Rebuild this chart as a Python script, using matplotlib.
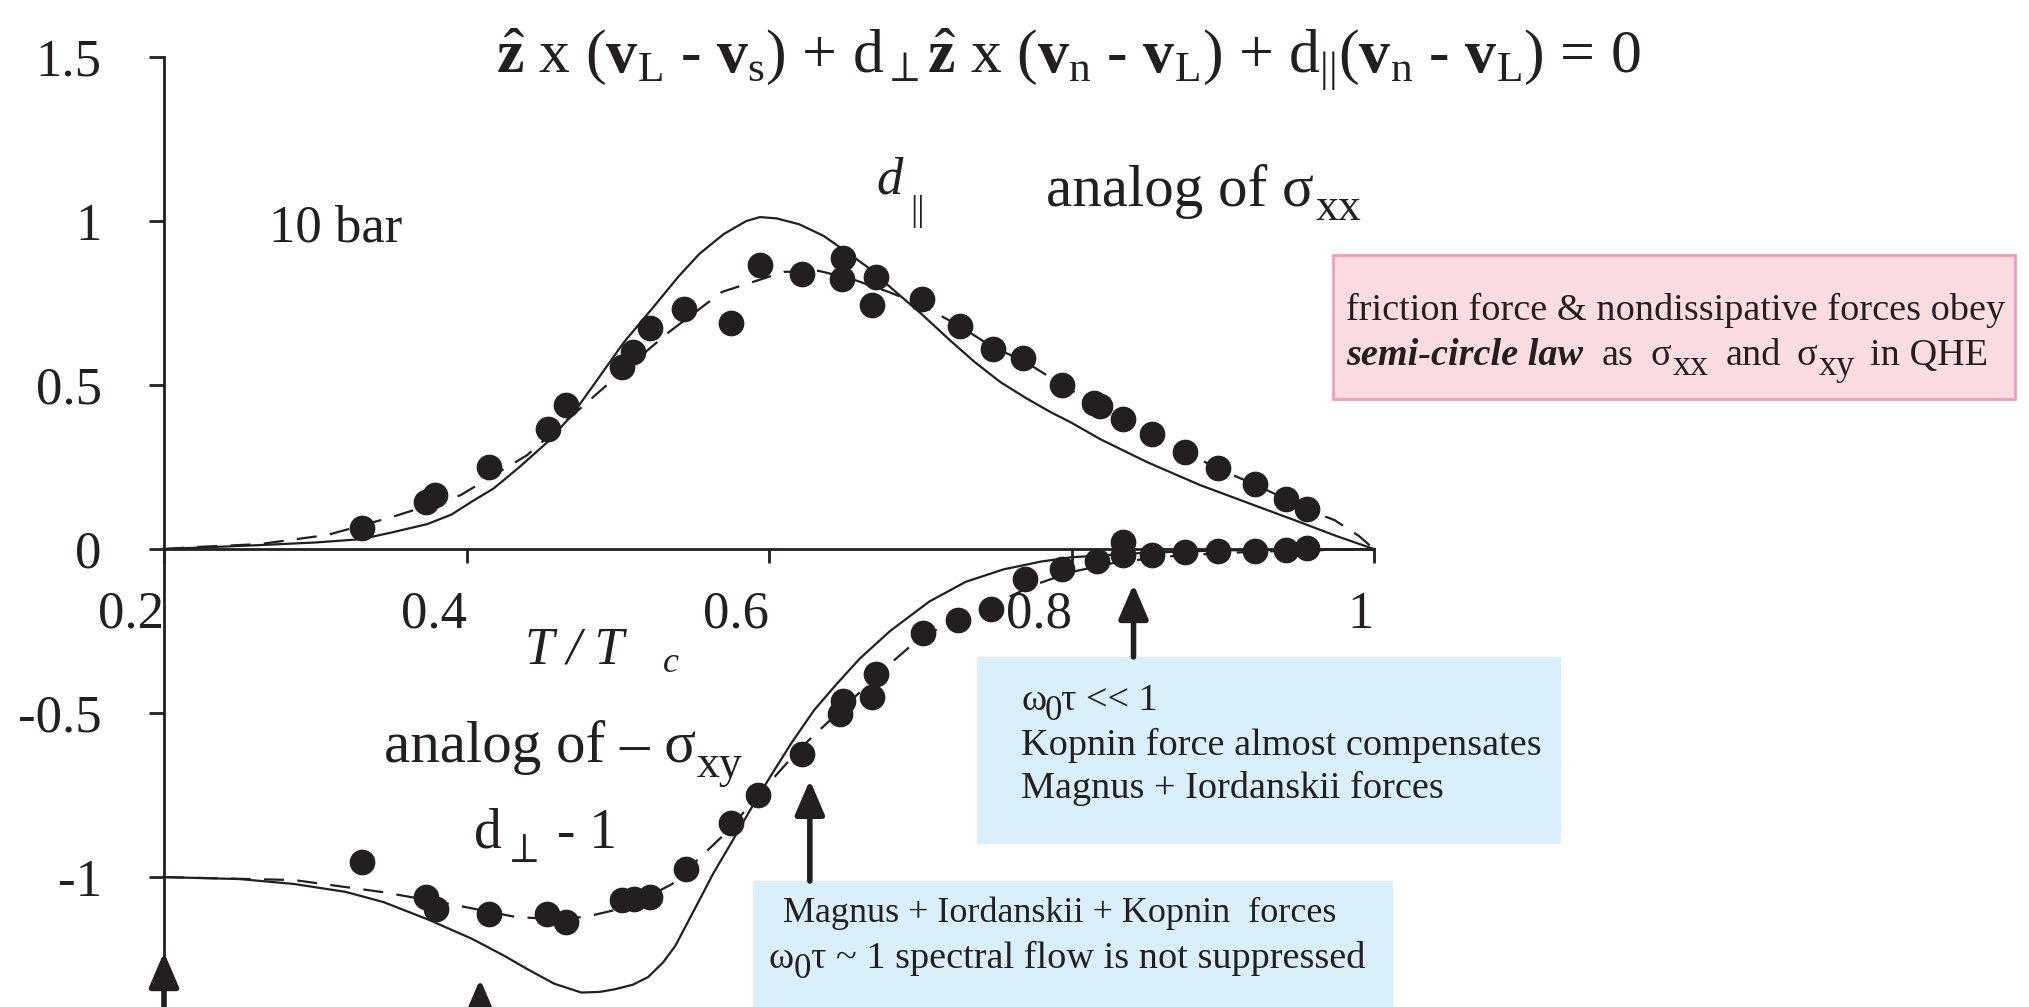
import matplotlib
matplotlib.use("Agg")
import matplotlib.pyplot as plt
from matplotlib.patches import Rectangle

plt.rcParams["font.family"] = ["Liberation Serif", "DejaVu Serif"]
plt.rcParams["mathtext.fontset"] = "custom"
plt.rcParams["mathtext.rm"] = "Liberation Serif"
plt.rcParams["mathtext.it"] = "Liberation Serif:italic"
plt.rcParams["mathtext.bf"] = "Liberation Serif:bold"

INK = "#231f20"
W, H = 2029, 1007

# measured mutual-friction coefficients, 10 bar
d_par_T = [0.331, 0.373, 0.379, 0.415, 0.454, 0.466, 0.503, 0.510, 0.521, 0.544,
           0.575, 0.594, 0.622, 0.649, 0.648, 0.668, 0.671, 0.701, 0.726, 0.748,
           0.768, 0.794, 0.815, 0.819, 0.834, 0.853, 0.875, 0.897, 0.921, 0.942, 0.956]
d_par = [0.064, 0.143, 0.165, 0.250, 0.366, 0.439, 0.555, 0.600, 0.674, 0.732,
         0.689, 0.866, 0.838, 0.887, 0.823, 0.744, 0.829, 0.762, 0.680, 0.610,
         0.582, 0.500, 0.445, 0.435, 0.397, 0.351, 0.296, 0.247, 0.198, 0.152, 0.122]

d_perp_T = [0.331, 0.373, 0.380, 0.415, 0.453, 0.466, 0.503, 0.511, 0.521, 0.545,
            0.575, 0.593, 0.622, 0.647, 0.649, 0.668, 0.671, 0.702, 0.725, 0.747,
            0.769, 0.794, 0.817, 0.834, 0.834, 0.853, 0.875, 0.897, 0.921, 0.942, 0.956]
d_perp_m1 = [-0.954, -1.061, -1.098, -1.113, -1.113, -1.137, -1.070, -1.067, -1.061, -0.976,
             -0.834, -0.751, -0.625, -0.502, -0.462, -0.451, -0.380, -0.257, -0.217, -0.182,
             -0.091, -0.060, -0.035, 0.021, -0.018, -0.017, -0.010, -0.005, -0.006, -0.002, 0.004]

# theory curves (solid)
theory_par_T = [0.20, 0.263, 0.30, 0.33, 0.35, 0.374, 0.39, 0.404, 0.418, 0.435, 0.454,
                0.47, 0.484, 0.504, 0.524, 0.54, 0.554, 0.57, 0.585, 0.594, 0.605, 0.62,
                0.636, 0.65, 0.665, 0.681, 0.70, 0.72, 0.736, 0.753, 0.77, 0.786, 0.80,
                0.819, 0.85, 0.885, 0.92, 0.951, 0.975, 1.0]
theory_par = [0.0, 0.012, 0.020, 0.030, 0.050, 0.076, 0.105, 0.146, 0.185, 0.250, 0.328,
              0.410, 0.500, 0.630, 0.740, 0.830, 0.900, 0.960, 1.000, 1.012, 1.008, 0.990,
              0.955, 0.910, 0.860, 0.795, 0.720, 0.635, 0.570, 0.509, 0.460, 0.418, 0.385,
              0.335, 0.265, 0.195, 0.135, 0.082, 0.040, 0.0]

theory_perp_T = [0.20, 0.25, 0.286, 0.32, 0.345, 0.375, 0.404, 0.425, 0.44, 0.458, 0.476,
                 0.488, 0.498, 0.51, 0.52, 0.53, 0.538, 0.546, 0.554, 0.563, 0.574, 0.587,
                 0.60, 0.615, 0.63, 0.645, 0.66, 0.68, 0.706, 0.73, 0.755, 0.78, 0.80,
                 0.85, 0.90, 1.0]
theory_perp = [-1.0, -1.006, -1.021, -1.045, -1.076, -1.13, -1.189, -1.24, -1.28, -1.325,
               -1.352, -1.350, -1.342, -1.328, -1.305, -1.26, -1.21, -1.14, -1.07, -0.99,
               -0.904, -0.80, -0.70, -0.59, -0.49, -0.41, -0.334, -0.25, -0.16, -0.10,
               -0.062, -0.038, -0.025, -0.011, -0.004, 0.0]

# fitted curves (dashed)
fit_par_T = [0.20, 0.22, 0.263, 0.308, 0.351, 0.396, 0.44, 0.495, 0.534, 0.569, 0.61,
             0.633, 0.655, 0.679, 0.70, 0.726, 0.748, 0.768, 0.794, 0.817, 0.834, 0.853,
             0.875, 0.897, 0.921, 0.942, 0.956, 0.974, 0.99, 1.0]
fit_par = [0.0, 0.006, 0.015, 0.043, 0.098, 0.164, 0.286, 0.509, 0.662, 0.784, 0.845,
           0.848, 0.823, 0.784, 0.745, 0.68, 0.615, 0.575, 0.50, 0.44, 0.397, 0.35,
           0.296, 0.245, 0.197, 0.152, 0.12, 0.088, 0.04, 0.0]

fit_perp_T = [0.20, 0.286, 0.345, 0.389, 0.433, 0.455, 0.478, 0.507, 0.536, 0.572, 0.593,
              0.62, 0.65, 0.68, 0.70, 0.725, 0.75, 0.775, 0.80, 0.83, 0.87, 0.92, 1.0]
fit_perp = [-1.0, -1.009, -1.046, -1.082, -1.122, -1.127, -1.122, -1.091, -1.021, -0.863,
            -0.75, -0.61, -0.48, -0.35, -0.27, -0.215, -0.165, -0.11, -0.07, -0.04,
            -0.02, -0.008, 0.0]

x_ticks = [0.2, 0.4, 0.6, 0.8, 1.0]
x_tick_labels = ["0.2", "0.4", "0.6", "0.8", "1"]
y_ticks = [-1.0, -0.5, 0.0, 0.5, 1.0, 1.5]
y_tick_labels = ["-1", "-0.5", "0", "0.5", "1", "1.5"]

fig = plt.figure(figsize=(W / 100, H / 100), dpi=100)
ax = fig.add_axes([164 / W, 0.0, 1210 / W, 950 / H])
ax.set_xlim(0.2, 1.0)
ax.set_ylim(-1.396, 1.5)
ax.patch.set_visible(False)

for s in ("top", "right"):
    ax.spines[s].set_visible(False)
ax.spines["bottom"].set_position(("data", 0))
for s in ("left", "bottom"):
    ax.spines[s].set_linewidth(2.0)
    ax.spines[s].set_color(INK)

ax.set_xticks(x_ticks, x_tick_labels)
ax.set_yticks(y_ticks, y_tick_labels)
ax.tick_params(axis="x", direction="out", length=10, width=2, pad=20,
               labelsize=38, colors=INK)
ax.tick_params(axis="y", direction="out", length=11, width=2, pad=34,
               labelsize=38, colors=INK)
for lbl in ax.get_xticklabels():
    lbl.set_ha("right")

ax.plot(theory_par_T, theory_par, color=INK, lw=1.6, zorder=3, clip_on=False)
ax.plot(fit_par_T, fit_par, color=INK, lw=1.6, dashes=(9, 6), zorder=3, clip_on=False)
ax.plot(theory_perp_T, theory_perp, color=INK, lw=1.6, zorder=3, clip_on=False)
ax.plot(fit_perp_T, fit_perp, color=INK, lw=1.6, dashes=(9, 6), zorder=3, clip_on=False)
ax.plot(d_par_T, d_par, "o", color=INK, ms=17.5, zorder=4, clip_on=False)
ax.plot(d_perp_T, d_perp_m1, "o", color=INK, ms=17.5, zorder=4, clip_on=False)


def put(xp, yp, s, size, **kw):
    """Place text with its left edge at xp and baseline at yp (pixels from top-left)."""
    kw.setdefault("ha", "left")
    return fig.text(xp / W, 1 - yp / H, s, fontsize=size, color=INK,
                    va="baseline", zorder=5, **kw)


# equation of vortex motion
eq = (r"$\hat{\mathbf{z}}$ x ($\mathbf{v}_{\mathrm{L}}$ - $\mathbf{v}_{\mathrm{s}}$)"
      r" + d$_{\perp}\hat{\mathbf{z}}$ x ($\mathbf{v}_{\mathrm{n}}$ - $\mathbf{v}_{\mathrm{L}}$)"
      r" + d$_{||}$($\mathbf{v}_{\mathrm{n}}$ - $\mathbf{v}_{\mathrm{L}}$) = 0")
put(1068, 74, eq, 44.5, ha="center")

put(269, 242, "10 bar", 38)
put(876, 194, "d", 38, style="italic")
put(910, 220, "||", 26)
put(1046, 206, "analog of σ", 42.5)
put(1316, 220, "xx", 33)

put(525, 663, "T / T", 38, style="italic")
put(663, 672, "c", 26, style="italic")
put(384, 762, "analog of – σ", 42.5)
put(697, 777, "xy", 33)
put(474, 848, "d", 40)
put(503, 862, r"$\perp$", 30)
put(557, 848, "- 1", 40)

# pink note box
ax.add_patch(Rectangle((0.9729, 0.457), 0.4509, 0.439, facecolor="#fbdde1",
                       edgecolor="#f39bbb", lw=2, clip_on=False, zorder=1))
put(1346, 320, "friction force & nondissipative forces obey", 27.5)
put(1346, 365, "semi-circle law", 27.5, style="italic", weight="bold")
put(1602, 365, "as", 27.5)
put(1651, 365, "σ", 27.5)
put(1673, 375, "xx", 26)
put(1726, 365, "and", 27.5)
put(1796, 365, "σ", 27.5)
put(1819, 375, "xy", 26)
put(1870, 365, "in QHE", 27.5)

# blue note boxes
BLUE = "#d9eff9"
ax.add_patch(Rectangle((0.7375, -0.899), 0.3861, 0.570, facecolor=BLUE,
                       edgecolor="none", clip_on=False, zorder=1))
put(1021, 710, "ω", 27.5)
put(1045, 720, "0", 25)
put(1061, 710, "τ << 1", 27.5)
put(1021, 755, "Kopnin force almost compensates", 27.5)
put(1021, 798, "Magnus + Iordanskii forces", 27.5)

ax.add_patch(Rectangle((0.5894, -1.6), 0.4232, 0.588, facecolor=BLUE,
                       edgecolor="none", clip_on=False, zorder=1))
put(783, 922, "Magnus + Iordanskii + Kopnin  forces", 26)
put(769, 968, "ω", 27.5)
put(794, 978, "0", 25)
put(811, 968, "τ ~ 1 spectral flow is not suppressed", 27.5)

# arrows marking the regimes
arrow_style = dict(arrowstyle="-|>,head_length=21,head_width=9", color=INK,
                   lw=4, shrinkA=0, shrinkB=0, mutation_scale=1)
for x0, y_tail, y_tip in [(0.2, -1.6, -1.229), (0.409, -1.6, -1.311),
                          (0.627, -1.012, -0.704), (0.841, -0.329, -0.107)]:
    ax.annotate("", xy=(x0, y_tip), xytext=(x0, y_tail),
                arrowprops=arrow_style, annotation_clip=False, zorder=5)

fig.savefig("out.png", dpi=100)
